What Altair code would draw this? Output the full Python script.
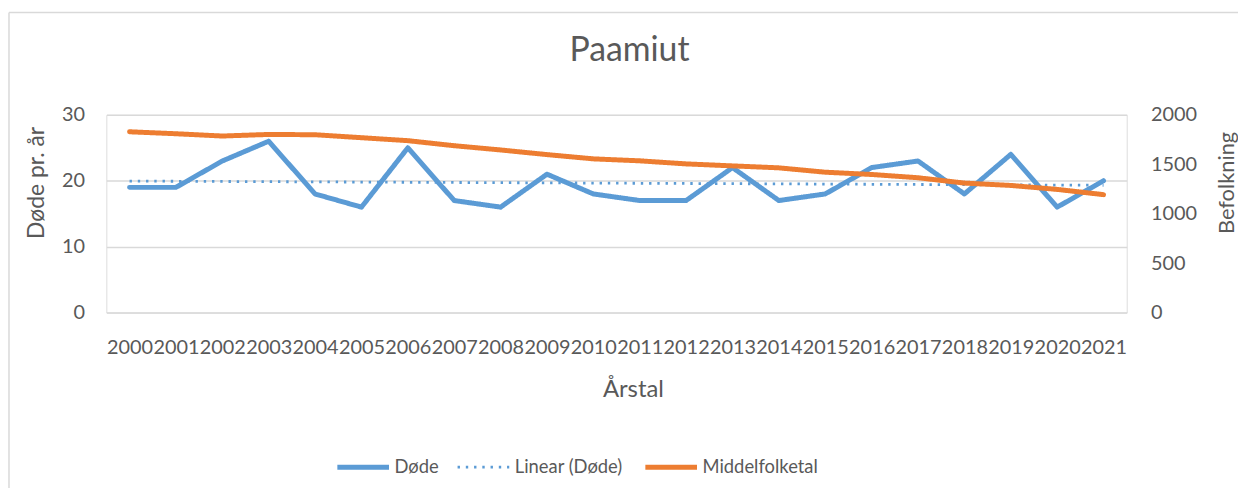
import altair as alt
import pandas as pd

years = list(range(2000, 2022))
dode = [19, 19, 23, 26, 18, 16, 25, 17, 16, 21, 18, 17, 17, 22, 17, 18, 22, 23, 18, 24, 16, 20]
middelfolketal = [1829, 1809, 1786, 1802, 1799, 1769, 1739, 1688, 1645, 1598, 1555, 1535,
                  1504, 1484, 1464, 1420, 1397, 1364, 1310, 1286, 1246, 1193]
series_names = ["Døde", "Linear (Døde)", "Middelfolketal"]
series_colors = ["#5B9BD5", "#5B9BD5", "#ED7D31"]

df = pd.DataFrame({"year": years, "dode": dode, "folk": middelfolketal})

FONT = "Lato"
TXT = "#595959"
GRID = "#D9D9D9"

W, H = 1027, 199
PAD = {"left": 99, "top": 106, "right": 112, "bottom": 175}

color_scale = alt.Scale(domain=series_names, range=series_colors)
dash_scale = alt.Scale(domain=series_names, range=[[1, 0], [2.4, 5.9], [1, 0]])
width_scale = alt.Scale(type="ordinal", domain=series_names, range=[5, 2.8, 5])

legend = alt.Legend(
    title=None, orient="none", direction="horizontal", columns=3,
    legendX=230, legendY=326, symbolType="stroke", symbolSize=2704,
    labelFont=FONT, labelFontSize=18.5, labelColor=TXT, labelOffset=3,
    columnPadding=12, padding=0,
)


def series_enc(name):
    return dict(
        color=alt.Color("series:N", scale=color_scale, legend=legend),
        strokeDash=alt.StrokeDash("series:N", scale=dash_scale, legend=legend),
        strokeWidth=alt.StrokeWidth("series:N", scale=width_scale, legend=legend),
    )


x_enc = alt.X(
    "year:O",
    scale=alt.Scale(paddingOuter=0.5),
    axis=alt.Axis(
        title="Årstal", labelAngle=0, domain=False, ticks=False, grid=False,
        labelFont=FONT, labelFontSize=20, labelColor=TXT, labelPadding=41,
        labelBaseline="alphabetic",
        titleFont=FONT, titleFontSize=24, titleFontWeight="normal", titleColor=TXT,
        titleX=530, titleY=84, titleBaseline="alphabetic", titleAnchor="middle", titleAlign="center",
    ),
)

y_left = alt.Y(
    "dode:Q",
    scale=alt.Scale(domain=[0, 30], nice=False),
    axis=alt.Axis(
        title="Døde pr. år", values=[0, 10, 20, 30], domain=False, ticks=False,
        grid=True, gridColor=GRID, gridWidth=1.5,
        labelFont=FONT, labelFontSize=20, labelColor=TXT, labelPadding=22,
        titleFont=FONT, titleFontSize=23, titleFontWeight="normal", titleColor=TXT,
        titleAngle=270, titleX=-63, titleY=68, titleBaseline="alphabetic", titleAlign="center",
    ),
)

dode_line = alt.Chart(df).transform_calculate(series="'Døde'").mark_line(
    strokeJoin="round", strokeCap="round"
).encode(x=x_enc, y=y_left, **series_enc("Døde"))

trend = alt.Chart(df).transform_regression(
    "year", "dode", method="linear"
).transform_calculate(series="'Linear (Døde)'").mark_line().encode(
    x=alt.X("year:O"), y=alt.Y("dode:Q"), **series_enc("Linear (Døde)")
)

left = alt.layer(dode_line, trend)

folk_line = alt.Chart(df).transform_calculate(series="'Middelfolketal'").mark_line(
    strokeJoin="round", strokeCap="round"
).encode(
    x=alt.X("year:O"),
    y=alt.Y(
        "folk:Q",
        scale=alt.Scale(domain=[0, 2000], nice=False),
        axis=alt.Axis(
            title="Befolkning", orient="right", values=[0, 500, 1000, 1500, 2000],
            domain=False, ticks=False, grid=False, format="d",
            labelFont=FONT, labelFontSize=20, labelColor=TXT, labelPadding=24,
            titleFont=FONT, titleFontSize=22, titleFontWeight="normal", titleColor=TXT,
            titleAngle=270, titleX=107, titleY=68, titleBaseline="alphabetic", titleAlign="center",
        ),
    ),
    **series_enc("Middelfolketal"),
)

frame_df = pd.DataFrame({"k": [0]})
frame_top = alt.Chart(frame_df).mark_rule(color=GRID, strokeWidth=1.5).encode(
    x=alt.value(-98), x2=alt.value(1139), y=alt.value(-103)
)
frame_left = alt.Chart(frame_df).mark_rule(color=GRID, strokeWidth=1.5).encode(
    x=alt.value(-98), y=alt.value(-103), y2=alt.value(376)
)

chart = alt.layer(left, folk_line, frame_top, frame_left).resolve_scale(
    y="independent"
).properties(
    width=W, height=H,
    padding=PAD,
    autosize=alt.AutoSizeParams(type="none"),
    title=alt.TitleParams(
        "Paamiut", font=FONT, fontSize=34, fontWeight="normal", color=TXT,
        anchor="middle", baseline="alphabetic", offset=0, dx=13, dy=84,
    ),
).configure_view(stroke=None).configure(background="white")

chart.save("out.html", embed_options={"renderer": "svg", "actions": False})
